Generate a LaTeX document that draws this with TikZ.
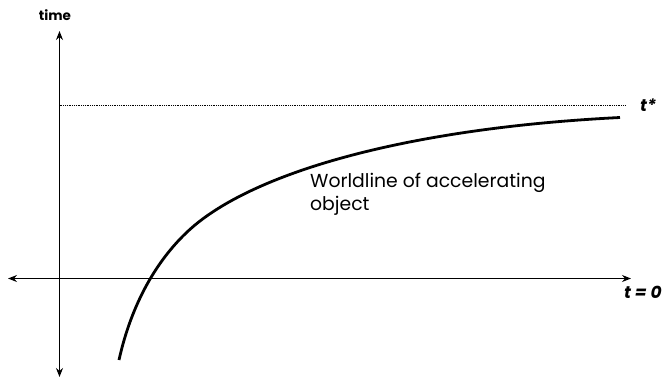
\documentclass[tikz,border=0pt]{standalone}
\usepackage{fontspec}
\setmainfont{Poppins}
\usetikzlibrary{arrows.meta,positioning}
\tikzset{
    axis/.style={line width=1.3pt, {Stealth[length=9pt,width=7pt]}-{Stealth[length=9pt,width=7pt]}},
    worldline/.style={line width=2.8pt, black},
    horizon/.style={line width=0.9pt, dash pattern=on 0.9pt off 0.9pt},
    axislabel/.style={font=\bfseries\itshape\fontsize{17}{20}\selectfont, inner sep=0pt},
    textlabel/.style={font=\fontsize{18.8}{23}\selectfont, align=left, anchor=north west, inner sep=0pt},
}

\begin{document}
\begin{tikzpicture}[x=1pt,y=-1pt]
    \useasboundingbox (0,0) rectangle (664,378);

    % axes
    \coordinate (tup) at (59.5,31);
    \coordinate (tdown) at (59.5,377);
    \coordinate (xleft) at (8,278.5);
    \coordinate (xright) at (631,278.5);
    \draw[axis] (tdown) -- (tup);
    \draw[axis] (xleft) -- (xright);
    \node[font=\bfseries\fontsize{13.5}{15}\selectfont] (time) at (55,15) {time};
    \node[axislabel, anchor=east] (tzero) at (662,292) {t = 0};

    % horizon
    \coordinate (hleft) at (59.5,105.5);
    \coordinate (hright) at (626,105.5);
    \draw[horizon] (hleft) -- (hright);
    \node[axislabel, anchor=west] (tstar) at (640,105) {t*};

    % worldline
    \coordinate (wstart) at (119,360);
    \coordinate (wmid) at (200,221);
    \coordinate (wend) at (620,117.5);
    \draw[worldline] (wstart) .. controls (135,288) and (170,244.1) .. (wmid)
        .. controls (270,167.1) and (420,127.5) .. (wend);
    \node[textlabel] (wl) at (310,173) {Worldline of accelerating\\object};
\end{tikzpicture}
\end{document}
